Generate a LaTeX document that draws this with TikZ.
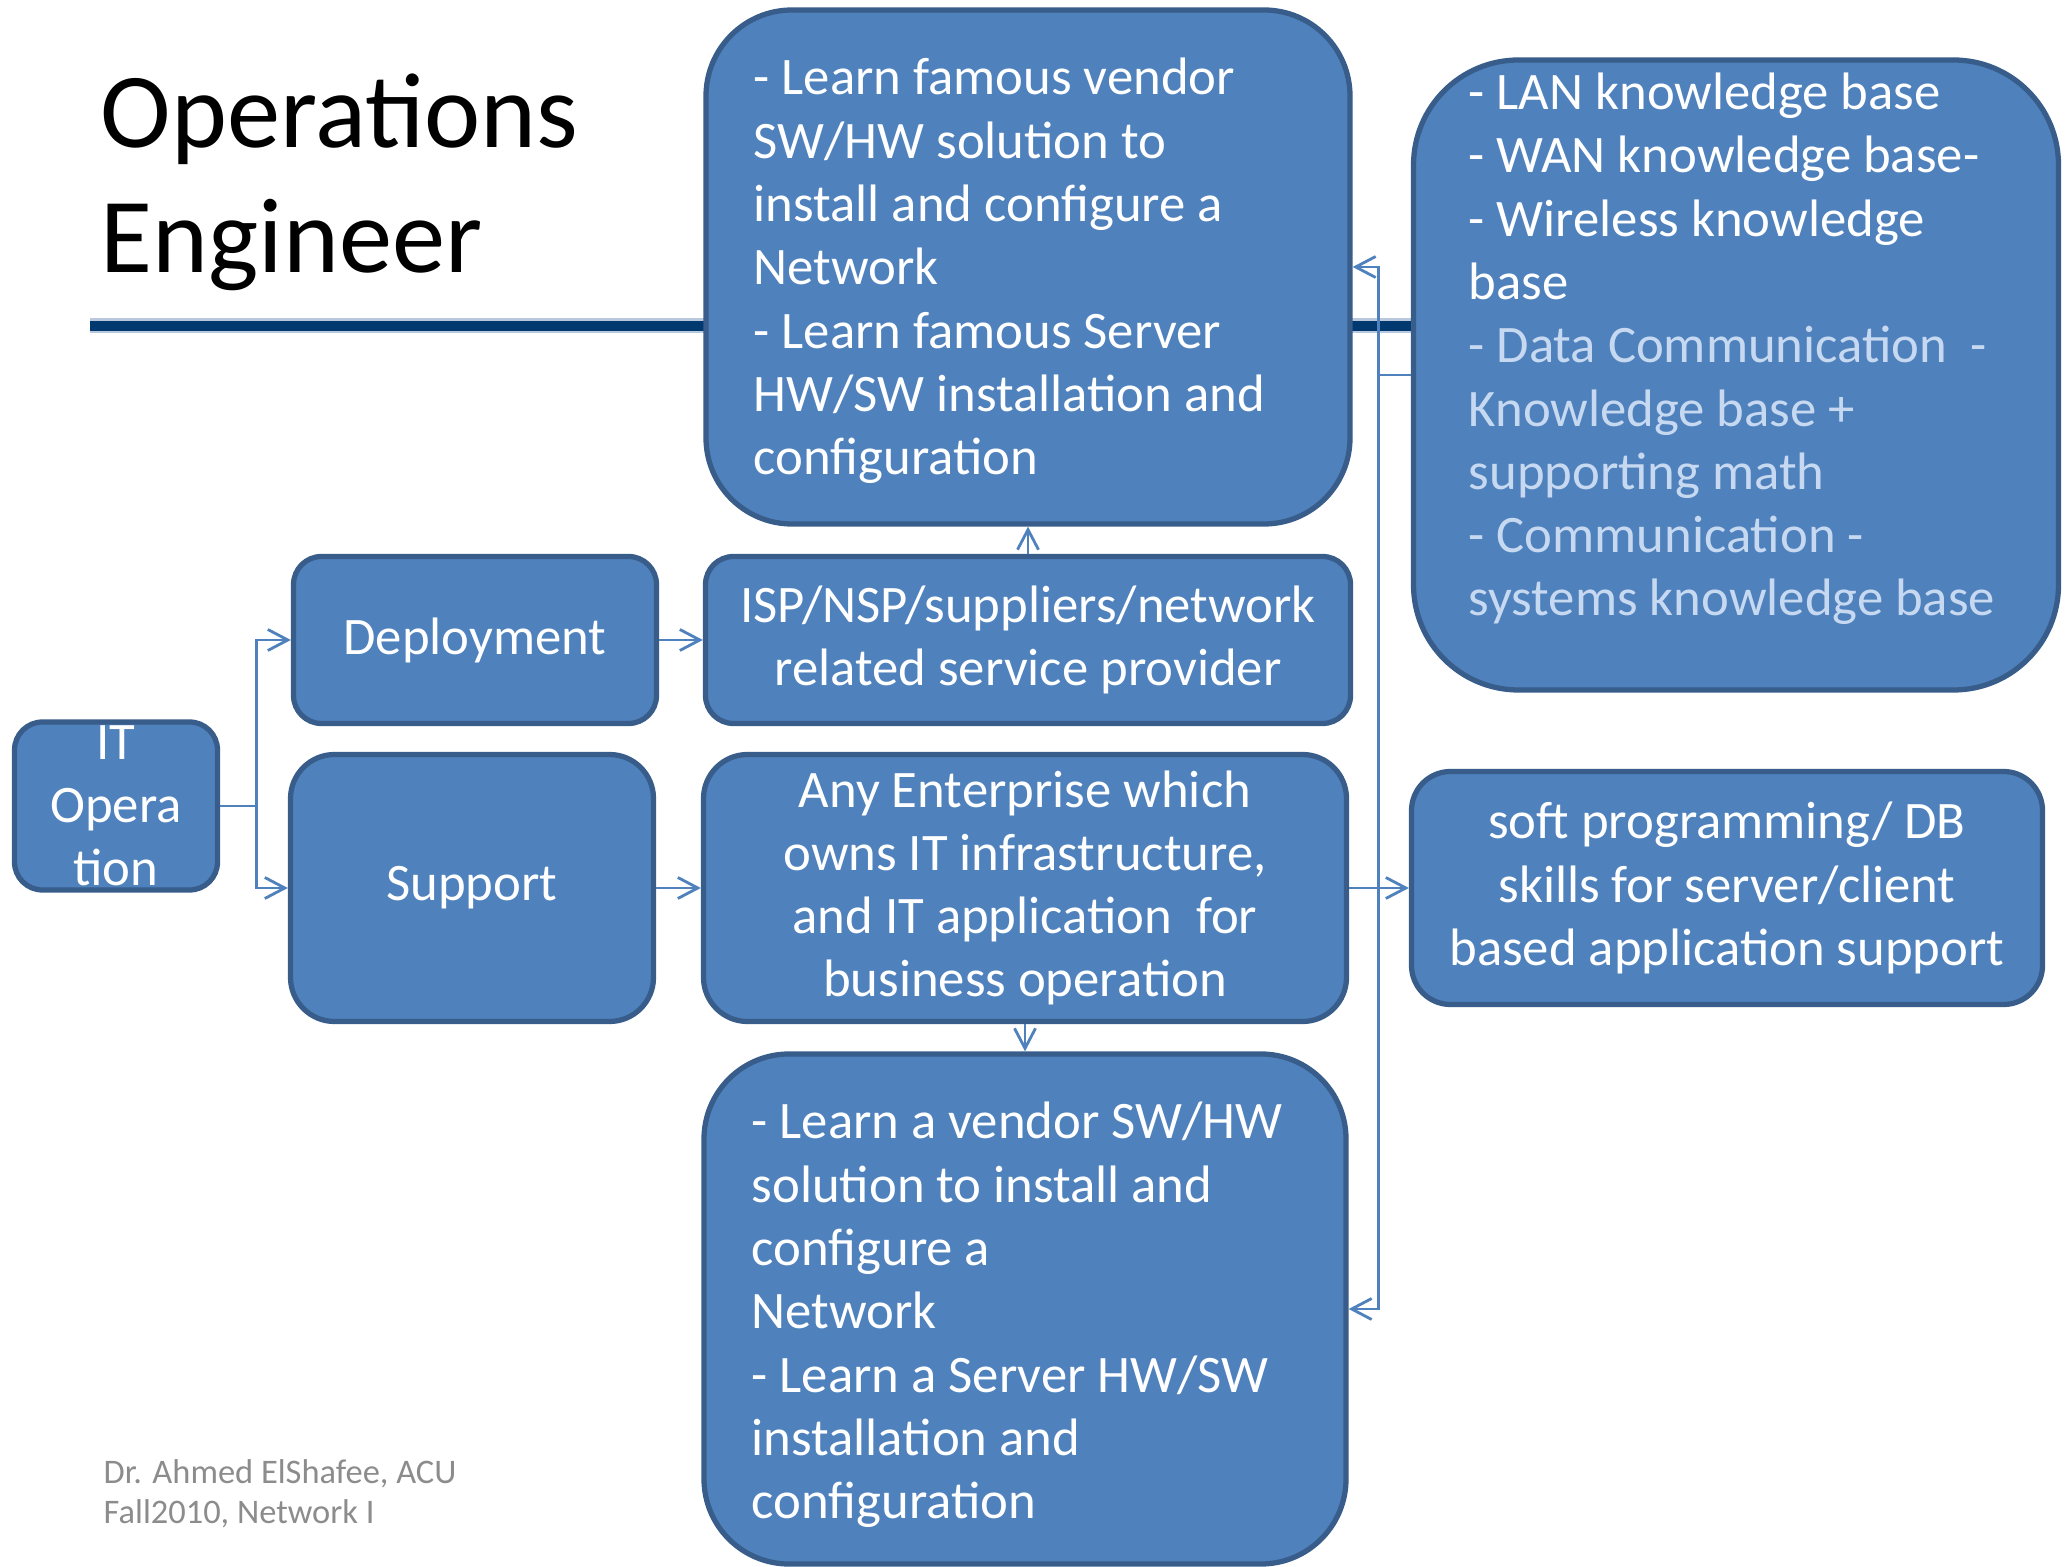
\documentclass[tikz,border=0pt]{standalone}
\usepackage{fontspec}
\setmainfont{Carlito}
\usepackage{xcolor}
\usetikzlibrary{arrows.meta}
\definecolor{boxfill}{HTML}{4F81BD}
\definecolor{boxline}{HTML}{385D8A}
\definecolor{paletext}{HTML}{C6D9F1}
\definecolor{rulecore}{HTML}{003870}
\definecolor{ruleedge}{HTML}{B9C8DC}
\definecolor{footgray}{HTML}{8C8C8C}

\begin{document}
\begin{tikzpicture}[
    x=0.1mm, y=-0.1mm,                      % pixel-like units, y runs down
    every node/.style={inner sep=0pt},
    box/.style={                            % rounded blue boxes
        rectangle,
        draw=boxline,
        fill=boxfill,
        line width=1.5pt,
        text=white,
        font=\fontsize{15}{18}\selectfont,
        align=center
    },
    note/.style={                           % left aligned text inside big boxes
        text=white,
        font=\fontsize{15}{18}\selectfont,
        align=left,
        anchor=west
    },
    link/.style={                           % thin connectors
        draw=boxfill,
        line width=0.8pt,
        -{Straight Barb[length=2mm, width=2.1mm]}
    },
    title/.style={font=\fontsize{30.3}{36}\selectfont, anchor=base west},
    credit/.style={font=\fontsize{9.8}{11}\selectfont, text=footgray, anchor=base west}
]
\useasboundingbox (0,0) rectangle (2065,1567);

% Title and rule
\node[title] (title) at (100,148) {Operations};
\node[title] (title2) at (100,273) {Engineer};
\draw[ruleedge, line width=1.5mm] (90,326) -- (1500,326);
\draw[rulecore, line width=1mm] (90,326) -- (1500,326);

% Boxes
\node[box, minimum width=64.4mm, minimum height=51.4mm, rounded corners=8.6mm] (vendor) at (1028,267) {};
\node[box, minimum width=64.5mm, minimum height=63mm, rounded corners=10.5mm] (know) at (1736,375) {};
\node[box, minimum width=36.3mm, minimum height=16.7mm, rounded corners=2.8mm] (deploy) at (475,640) {Deployment};
\node[box, minimum width=64.5mm, minimum height=16.7mm, rounded corners=2.8mm] (isp) at (1028,640) {ISP/NSP/suppliers/network\\related service provider};
\node[box, minimum width=20.3mm, minimum height=16.8mm, rounded corners=2.8mm] (itop) at (116,806) {IT\\Opera\\tion};
\node[box, minimum width=36.3mm, minimum height=26.7mm, rounded corners=4.4mm] (support) at (472,888) {Support};
\node[box, minimum width=64.3mm, minimum height=26.7mm, rounded corners=4.4mm] (enterprise) at (1025,888) {Any Enterprise which\\owns IT infrastructure,\\and IT application~ for\\business operation};
\node[box, minimum width=63.1mm, minimum height=23.3mm, rounded corners=3.9mm] (soft) at (1727,888) {soft programming/ DB\\skills for server/client\\based application support};
\node[box, minimum width=64.2mm, minimum height=51mm, rounded corners=8.5mm] (learn) at (1025,1309) {};

% Text of the big boxes
\node[note] (vendortxt) at (753,271) {- Learn famous vendor\\SW/HW solution to\\install and configure a\\Network\\- Learn famous Server\\HW/SW installation and\\configuration};
\node[note] (knowtxt) at (1468,349) {- LAN knowledge base\\- WAN knowledge base-\\- Wireless knowledge\\base\\\color{paletext}- Data Communication~ -\\\color{paletext}Knowledge base +\\\color{paletext}supporting math\\\color{paletext}- Communication -\\\color{paletext}systems knowledge base};
\node[note] (learntxt) at (751,1315) {- Learn a vendor SW/HW\\solution to install and\\configure a\\Network\\- Learn a Server HW/SW\\installation and\\configuration};

% Connectors
\draw[link] (itop.east) -- ++(36,0) coordinate (fork) |- (deploy.west);
\draw[link] (fork) |- (support.west);
\draw[link] (deploy) -- (isp);
\draw[link] (support) -- (enterprise);
\draw[link] (isp) -- (vendor);
\draw[link] (enterprise) -- (learn);
\draw[link] (enterprise) -- (soft);
\draw[link] (know.west) -- ++(-32,0) coordinate (bus) |- (vendor.east);
\draw[link] (bus) |- (learn.east);

% Footer
\node[credit] (credit) at (103,1483) {Dr. Ahmed ElShafee, ACU};
\node[credit] (term) at (103,1523) {Fall2010, Network I};

\end{tikzpicture}
\end{document}
